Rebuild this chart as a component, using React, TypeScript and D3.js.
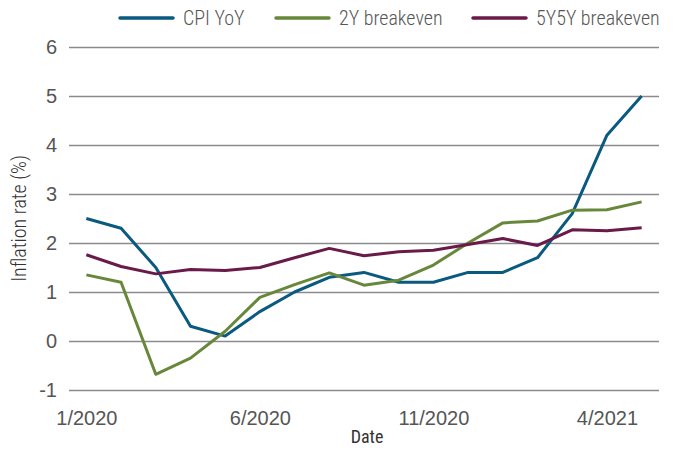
import { useRef, useEffect } from "react";
import * as d3 from "d3";

const months = [
  "1/2020", "2/2020", "3/2020", "4/2020", "5/2020", "6/2020", "7/2020", "8/2020",
  "9/2020", "10/2020", "11/2020", "12/2020", "1/2021", "2/2021", "3/2021", "4/2021", "5/2021",
];
const tickLabels = ["1/2020", "6/2020", "11/2020", "4/2021"];
const cpiYoY = [2.5, 2.3, 1.5, 0.3, 0.1, 0.6, 1.0, 1.3, 1.4, 1.2, 1.2, 1.4, 1.4, 1.7, 2.6, 4.2, 5.0];
const breakeven2Y = [1.35, 1.2, -0.68, -0.35, 0.2, 0.89, 1.15, 1.39, 1.14, 1.24, 1.55, 2.0, 2.41, 2.45, 2.67, 2.68, 2.84];
const breakeven5Y5Y = [1.76, 1.52, 1.37, 1.46, 1.44, 1.5, 1.7, 1.89, 1.74, 1.82, 1.85, 1.97, 2.09, 1.95, 2.27, 2.25, 2.31];
const yTicks = [-1, 0, 1, 2, 3, 4, 5, 6];

const seriesList = [
  { name: "CPI YoY", values: cpiYoY, color: "#0a5a80" },
  { name: "2Y breakeven", values: breakeven2Y, color: "#67883b" },
  { name: "5Y5Y breakeven", values: breakeven5Y5Y, color: "#6a1a48" },
];

const FONT = "'Roboto Condensed', Roboto, sans-serif";

export default function App() {
  const ref = useRef<SVGSVGElement>(null);

  function init() {
    const settings = {
      width: 673,
      height: 455,
      margin: { top: 47, right: 14, bottom: 65, left: 69 },
    };

    const svg = d3.select(ref.current);
    svg.selectAll("*").remove();

    const x = d3
      .scalePoint()
      .domain(months)
      .range([settings.margin.left, settings.width - settings.margin.right])
      .padding(0.5);

    const y = d3
      .scaleLinear()
      .domain([-1, 6])
      .range([settings.height - settings.margin.bottom, settings.margin.top]);

    // gridlines + y labels
    const yAxis = (g) =>
      g
        .attr("transform", `translate(${settings.margin.left},0)`)
        .call(
          d3
            .axisLeft(y)
            .tickValues(yTicks)
            .tickSize(-(settings.width - settings.margin.left - settings.margin.right))
            .tickPadding(12)
            .tickFormat((d) => String(d))
        )
        .call((g) => g.select(".domain").remove())
        .call((g) => g.selectAll(".tick line").attr("stroke", "#8a8a8f").attr("stroke-width", 1.6))
        .call((g) =>
          g
            .selectAll(".tick text")
            .attr("fill", "#555")
            .attr("font-size", 20)
            .attr("font-weight", 300)
        );

    const xAxis = (g) =>
      g
        .attr("transform", `translate(0,${settings.height - settings.margin.bottom})`)
        .call(d3.axisBottom(x).tickValues(tickLabels).tickSize(0).tickPadding(21))
        .call((g) => g.select(".domain").remove())
        .call((g) =>
          g
            .selectAll(".tick text")
            .attr("fill", "#555")
            .attr("font-size", 20)
            .attr("font-weight", 300)
        );

    svg.append("g").call(yAxis);
    svg.append("g").call(xAxis);

    const line = d3
      .line<number>()
      .x((_, i) => x(months[i]))
      .y((d) => y(d));

    svg
      .append("g")
      .selectAll("path")
      .data(seriesList)
      .join("path")
      .attr("fill", "none")
      .attr("stroke", (d) => d.color)
      .attr("stroke-width", 3)
      .attr("stroke-linejoin", "round")
      .attr("d", (d) => line(d.values));

    // legend
    const legendX = [120, 276, 473];
    const legend = svg
      .append("g")
      .selectAll("g")
      .data(seriesList)
      .join("g")
      .attr("transform", (_, i) => `translate(${legendX[i]},18)`);
    legend
      .append("line")
      .attr("x1", 0)
      .attr("x2", 53)
      .attr("stroke", (d) => d.color)
      .attr("stroke-width", 3.5)
      .attr("stroke-linecap", "round");
    legend
      .append("text")
      .attr("x", 63)
      .attr("dy", "0.35em")
      .attr("fill", "#555")
      .attr("font-size", 20)
      .attr("font-weight", 300)
      .text((d) => d.name);

    // axis titles
    svg
      .append("text")
      .attr("x", 367)
      .attr("y", 443)
      .attr("text-anchor", "middle")
      .attr("fill", "#333")
      .attr("font-size", 18)
      .text("Date");
    svg
      .append("text")
      .attr("transform", `translate(26,${(y(6) + y(-1)) / 2}) rotate(-90)`)
      .attr("text-anchor", "middle")
      .attr("fill", "#333")
      .attr("font-size", 20)
      .attr("font-weight", 300)
      .text("Inflation rate (%)");
  }

  useEffect(init, []);
  return (
    <svg
      ref={ref}
      width={673}
      height={455}
      fontFamily={FONT}
      style={{ position: "absolute", left: 0, top: 0, background: "#fff" }}
    ></svg>
  );
}
